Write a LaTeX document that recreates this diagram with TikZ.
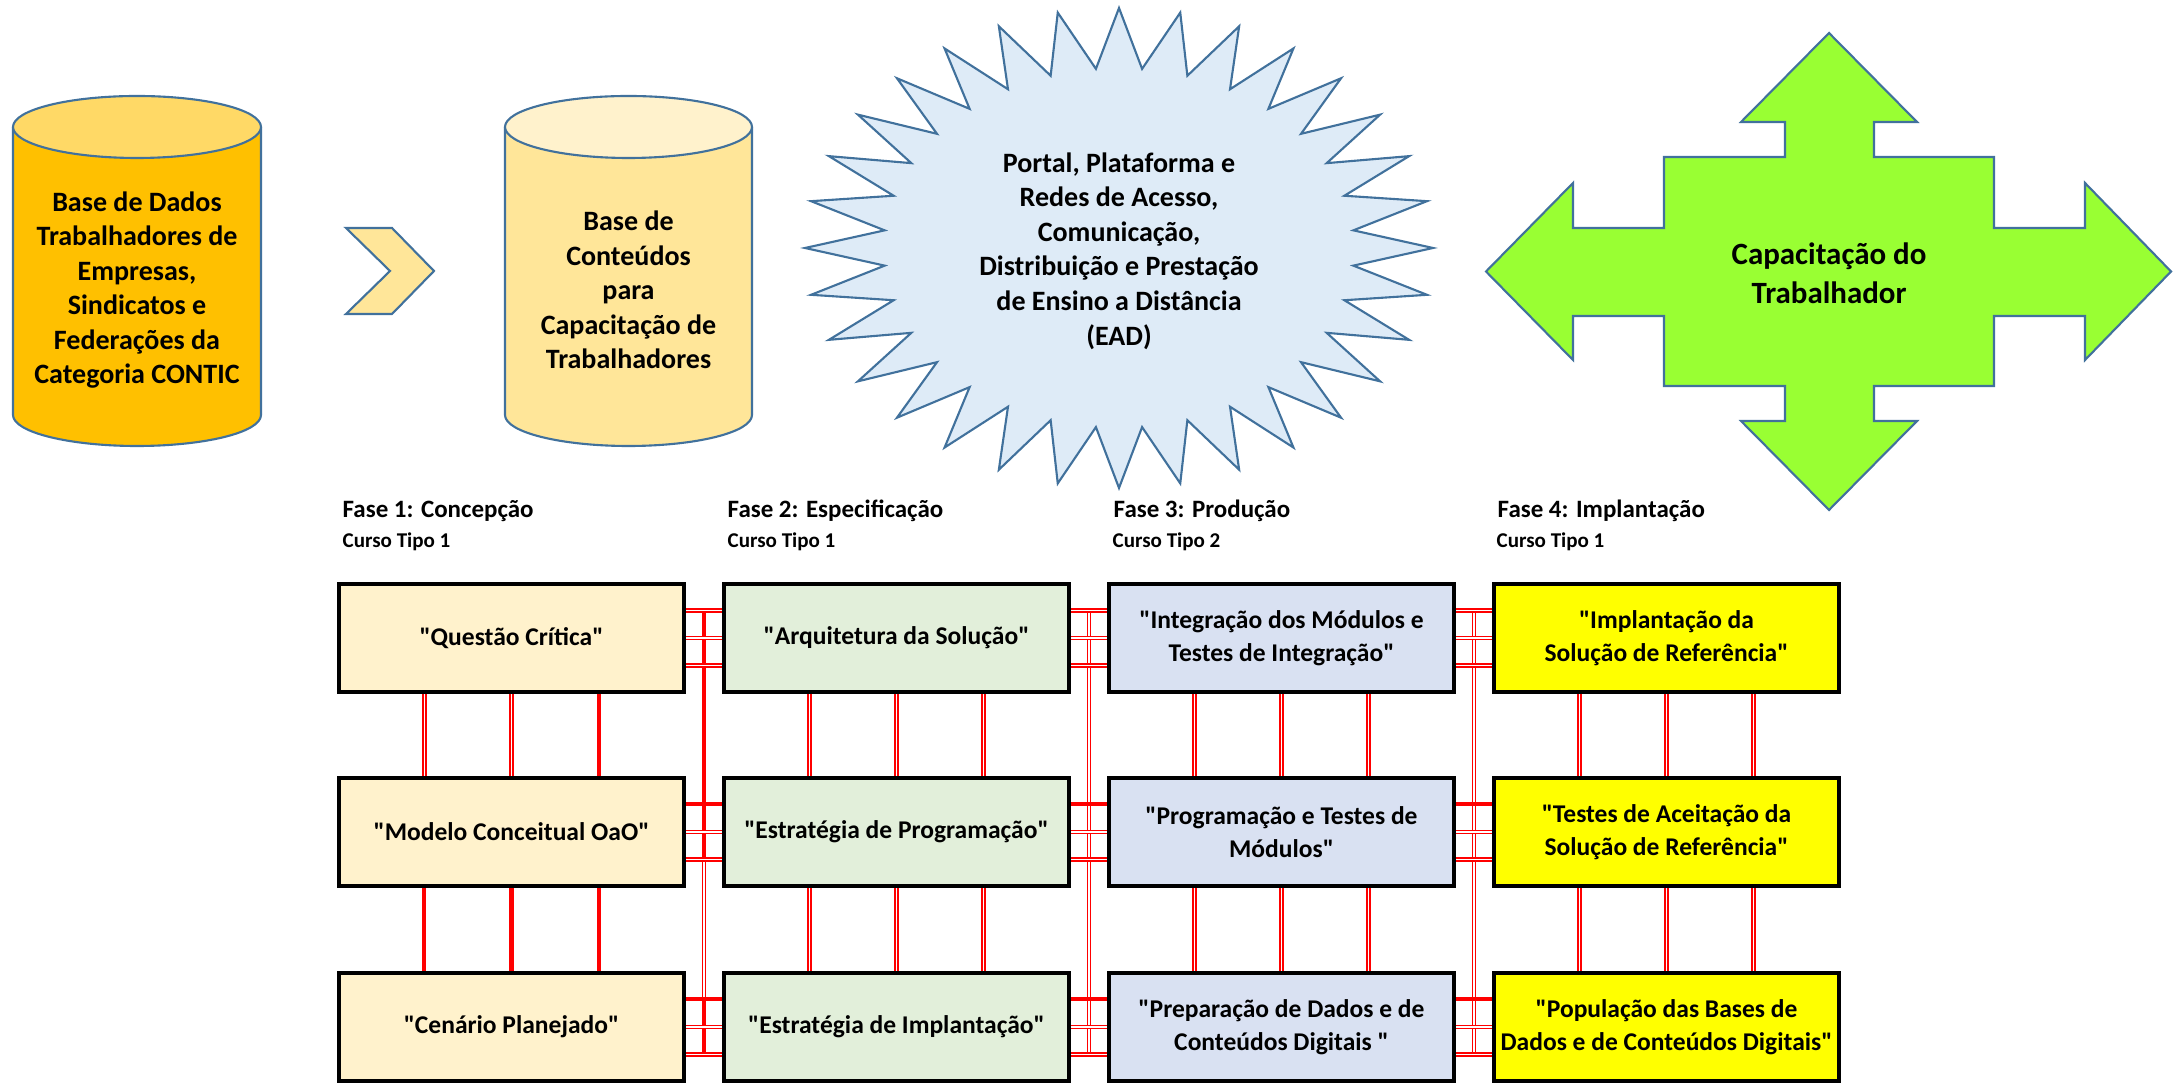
\documentclass[tikz,border=0pt]{standalone}
\usepackage{fontspec}
\setmainfont{Carlito}[Ligatures=TeXOff]
\usetikzlibrary{calc,backgrounds}
\newcommand{\straightq}{\char34\relax}
\definecolor{edgeblue}{HTML}{41719C}
\definecolor{cylA}{HTML}{FFC000}
\definecolor{cylAtop}{HTML}{FFD966}
\definecolor{cylB}{HTML}{FFE699}
\definecolor{cylBtop}{HTML}{FFF2CC}
\definecolor{starfill}{HTML}{DEEBF7}
\definecolor{arrowgreen}{HTML}{99FF33}
\definecolor{colA}{HTML}{FFF2CC}
\definecolor{colB}{HTML}{E2EFDA}
\definecolor{colC}{HTML}{D9E1F2}
\definecolor{colD}{HTML}{FFFF00}
\begin{document}
\begin{tikzpicture}[x=0.01cm,y=-0.01cm,
  shapeline/.style={draw=edgeblue,line width=0.6pt,line join=miter},
  bigtext/.style={align=center,inner sep=0pt,font=\fontsize{7.97pt}{9.82pt}\selectfont\bfseries},
  captext/.style={align=center,inner sep=0pt,font=\fontsize{8.8pt}{11.1pt}\selectfont\bfseries},
  box/.style={draw=black,line width=1pt,minimum width=3.45cm,minimum height=1.08cm,inner sep=0pt,align=center,font=\fontsize{7.26pt}{9.39pt}\selectfont\bfseries},
  phase/.style={anchor=base west,inner sep=0pt,font=\fontsize{7.1pt}{8.5pt}\selectfont\bfseries},
  course/.style={anchor=base west,inner sep=0pt,font=\fontsize{5.98pt}{7pt}\selectfont\bfseries},
  dbl/.style={draw=red,line width=0.55pt,double=white,double distance=0.3pt},
  sol/.style={draw=red,line width=1.15pt},
]
\useasboundingbox (0,0) rectangle (2173,1083);

% cylinder 1
\filldraw[shapeline,fill=cylA] (13,127) -- (13,415) .. controls (13,432.1) and (68.5,446) .. (137,446) .. controls (205.5,446) and (261,432.1) .. (261,415) -- (261,127);
\filldraw[shapeline,fill=cylAtop] (137,127) ellipse [x radius=124, y radius=31];
\node[bigtext] (db1) at (137,290) {Base de Dados\\Trabalhadores de\\Empresas,\\Sindicatos e\\Federações da\\Categoria CONTIC};

% chevron
\filldraw[shapeline,fill=cylB] (346,228) -- (392,228) -- (434,271) -- (392,314) -- (346,314) -- (390,271) -- cycle;

% cylinder 2
\filldraw[shapeline,fill=cylB] (505,127) -- (505,415) .. controls (505,432.1) and (560.3,446) .. (628.5,446) .. controls (696.7,446) and (752,432.1) .. (752,415) -- (752,127);
\filldraw[shapeline,fill=cylBtop] (628.5,127) ellipse [x radius=123.5, y radius=31];
\node[bigtext] (db2) at (628.5,290) {Base de\\Conteúdos\\para\\Capacitação de\\Trabalhadores};

% star
\filldraw[shapeline,fill=starfill] (1119,8) \foreach \k in {0,...,31} { -- ({1119+235.5*cos(90+\k*11.25+5.625)},{248-180*sin(90+\k*11.25+5.625)}) -- ({1119+314*cos(90+(\k+1)*11.25)},{248-240*sin(90+(\k+1)*11.25)}) } -- cycle;
\node[bigtext] (ead) at (1119,251) {Portal, Plataforma e\\Redes de Acesso,\\Comunicação,\\Distribuição e Prestação\\de Ensino a Distância\\(EAD)};

% quad arrow
\filldraw[shapeline,fill=arrowgreen] (1829,33) -- (1917,122) -- (1874,122) -- (1874,157) -- (1994,157) -- (1994,228) -- (2085,228) -- (2085,183) -- (2171,271.5) -- (2085,360) -- (2085,316) -- (1994,316) -- (1994,386) -- (1874,386) -- (1874,421) -- (1917,421) -- (1829,510) -- (1741,421) -- (1785,421) -- (1785,386) -- (1664,386) -- (1664,316) -- (1573,316) -- (1573,360) -- (1486,271.5) -- (1573,183) -- (1573,228) -- (1664,228) -- (1664,157) -- (1785,157) -- (1785,122) -- (1741,122) -- cycle;
\node[captext] (cap) at (1829,273.5) {Capacitação do\\Trabalhador};

% phase labels
\node[phase] (f1) at (342,518) {Fase 1: Concepção};
\node[course] (k1) at (342,548) {Curso Tipo 1};
\node[phase] (f2) at (727,518) {Fase 2: Especificação};
\node[course] (k2) at (727,548) {Curso Tipo 1};
\node[phase] (f3) at (1113,518) {Fase 3: Produção};
\node[course] (k3) at (1112,548) {Curso Tipo 2};
\node[phase] (f4) at (1497,518) {Fase 4: Implantação};
\node[course] (k4) at (1496,548) {Curso Tipo 1};

% boxes
\node[box,fill=colA] (b11) at (511.5,638) {\straightq Questão Crítica\straightq};
\node[box,fill=colA] (b21) at (511.5,832) {\straightq Modelo Conceitual OaO\straightq};
\node[box,fill=colA] (b31) at (511.5,1027) {\straightq Cenário Planejado\straightq};
\node[box,fill=colB] (b12) at (896.5,638) {\straightq Arquitetura da Solução\straightq};
\node[box,fill=colB] (b22) at (896.5,832) {\straightq Estratégia de Programação\straightq};
\node[box,fill=colB] (b32) at (896.5,1027) {\straightq Estratégia de Implantação\straightq};
\node[box,fill=colC] (b13) at (1281.5,638) {\straightq Integração dos Módulos e\\Testes de Integração\straightq};
\node[box,fill=colC] (b23) at (1281.5,832) {\straightq Programação e Testes de\\Módulos\straightq};
\node[box,fill=colC] (b33) at (1281.5,1027) {\straightq Preparação de Dados e de\\Conteúdos Digitais \straightq};
\node[box,fill=colD] (b14) at (1666.5,638) {\straightq Implantação da\\Solução de Referência\straightq};
\node[box,fill=colD] (b24) at (1666.5,832) {\straightq Testes de Aceitação da\\Solução de Referência\straightq};
\node[box,fill=colD] (b34) at (1666.5,1027) {\straightq População das Bases de\\Dados e de Conteúdos Digitais\straightq};

% gap coordinates
\coordinate (g1a) at (704,610.5);
\coordinate (g1m) at (704,859.5);
\coordinate (g1n) at (704,999.5);
\coordinate (g1b) at (704,1054.5);
\coordinate (g2a) at (1089,610.5);
\coordinate (g2b) at (1089,1054.5);
\coordinate (g3a) at (1474,610.5);
\coordinate (g3b) at (1474,1054.5);

\begin{pgfonlayer}{background}
% vertical lines in the gaps
\draw[sol] (g1a) -- (g1m);
\draw[dbl] (g1m) -- (g1n);
\draw[sol] (g1n) -- (g1b);
\draw[dbl] (g2a) -- (g2b);
\draw[dbl] (g3a) -- (g3b);
% horizontal links between columns
\foreach \c/\n in {1/2,2/3,3/4} {
  \foreach \f in {.25,.5,.75}
    \draw[dbl] ($(b1\c.north east)!\f!(b1\c.south east)$) -- ($(b1\n.north west)!\f!(b1\n.south west)$);
  \foreach \r in {2,3} {
    \draw[sol] ($(b\r\c.north east)!.25!(b\r\c.south east)$) -- ($(b\r\n.north west)!.25!(b\r\n.south west)$);
    \foreach \f in {.5,.75}
      \draw[dbl] ($(b\r\c.north east)!\f!(b\r\c.south east)$) -- ($(b\r\n.north west)!\f!(b\r\n.south west)$);
  }
}
% vertical links between rows
\foreach \f in {.25,.5}
  \draw[dbl] ($(b11.south west)!\f!(b11.south east)$) -- ($(b21.north west)!\f!(b21.north east)$);
\draw[sol] ($(b11.south west)!.75!(b11.south east)$) -- ($(b21.north west)!.75!(b21.north east)$);
\foreach \f in {.25,.5,.75}
  \draw[sol] ($(b21.south west)!\f!(b21.south east)$) -- ($(b31.north west)!\f!(b31.north east)$);
\foreach \c in {2,3,4} {
  \foreach \f in {.25,.5,.75} {
    \draw[dbl] ($(b1\c.south west)!\f!(b1\c.south east)$) -- ($(b2\c.north west)!\f!(b2\c.north east)$);
    \draw[dbl] ($(b2\c.south west)!\f!(b2\c.south east)$) -- ($(b3\c.north west)!\f!(b3\c.north east)$);
  }
}
\end{pgfonlayer}
\end{tikzpicture}
\end{document}
